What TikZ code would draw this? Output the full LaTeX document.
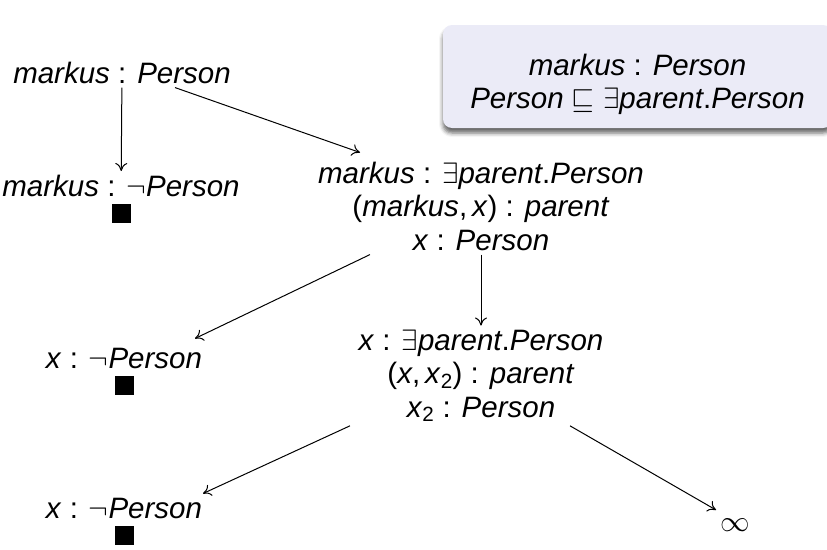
\RequirePackage{fix-cm}
\documentclass[tikz,border=0pt]{standalone}
\usepackage{fontspec}
\setmainfont{Liberation Sans}
\usetikzlibrary{arrows.meta,shadows.blur}
\definecolor{blockbody}{rgb}{0.92,0.92,0.97}
\newcommand{\cn}[1]{\textit{#1}}
\newcommand{\clash}{\rule{19pt}{19pt}}

\begin{document}
\begin{tikzpicture}
[
x=1pt,y=-1pt,
every node/.style={font=\fontsize{29.5}{33.5}\selectfont,align=center,inner sep=4pt},
tableau/.style={anchor=north},
branch/.style={line width=1pt,-{To[length=8pt,width=12pt]}},
kbox/.style={fill=blockbody,rounded corners=9pt,minimum width=389pt,minimum height=103pt,
            blur shadow={shadow xshift=0pt,shadow yshift=-5pt,shadow blur radius=4pt,shadow opacity=60}},
]
\useasboundingbox (0,0) rectangle (827,549);

%The knowledge base
\node[kbox] (kb) at (637.5,76.5) {\rule{0pt}{37pt}\cn{markus} : \cn{Person}\\\cn{Person} $\sqsubseteq$ $\exists$\cn{parent}.\cn{Person}};

%Place the nodes
\node[tableau] (a) at (122,57.5) {\cn{markus} : \cn{Person}};
\node[tableau] (b) at (121,171) {\cn{markus} : $\neg$\cn{Person}\\[-7pt]\clash};
\node[tableau] (c) at (481,157.5) {\cn{markus} : $\exists$\cn{parent}.\cn{Person}\\(\cn{markus},\,\cn{x}) : \cn{parent}\\\cn{x} : \cn{Person}};
\node[tableau] (d) at (124,343.5) {\cn{x} : $\neg$\cn{Person}\\[-7pt]\clash};
\node[tableau] (e) at (481,325.5) {\cn{x} : $\exists$\cn{parent}.\cn{Person}\\(\cn{x},\,\cn{x}\textsubscript{2}) : \cn{parent}\\\cn{x}\textsubscript{2} : \cn{Person}};
\node[tableau] (f) at (124,493.5) {\cn{x} : $\neg$\cn{Person}\\[-7pt]\clash};
\node[tableau] (g) at (735,515) {$\infty$};

%Draw the connections
\draw[branch] (a) -- (b);
\draw[branch] ([xshift=53pt]a.south) -- ([xshift=-121pt,yshift=5pt]c.north);
\draw[branch] ([xshift=-111pt]c.south) -- ([xshift=71pt,yshift=5pt]d.north);
\draw[branch] (c) -- (e);
\draw[branch] ([xshift=-131pt]e.south) -- ([xshift=79pt]f.north);
\draw[branch] ([xshift=89pt]e.south) -- ([yshift=5pt]g.north west);
\end{tikzpicture}
\end{document}
